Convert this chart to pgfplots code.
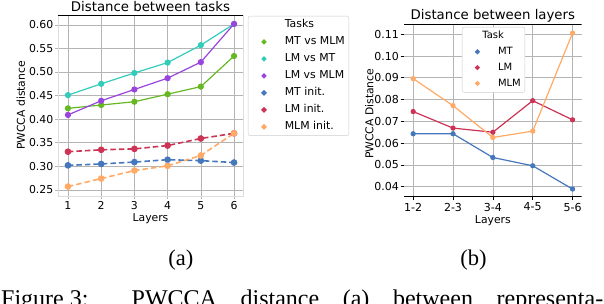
\documentclass[border=0pt]{standalone}
\usepackage{pgfplots}
\pgfplotsset{compat=1.18}
\usepackage{fontspec}
\setmainfont{DejaVu Sans}
\newfontfamily\capfont{Liberation Serif}

\definecolor{cgreen}{HTML}{66B822}
\definecolor{cteal}{HTML}{33CCBB}
\definecolor{cpurple}{HTML}{9944DD}
\definecolor{cblue}{HTML}{4477BB}
\definecolor{cred}{HTML}{CC3355}
\definecolor{corange}{HTML}{FFAA66}
\definecolor{gridc}{HTML}{B4B4B4}
\definecolor{spinec}{HTML}{DDDDDD}
\definecolor{legc}{HTML}{CCCCCC}

\pgfplotsset{
  /pgf/number format/assume math mode=true,
  every axis title shift=0pt,
  solidline/.style={line width=1.2pt, mark=*, mark size=2.5pt, mark options={solid}},
  dashline/.style={line width=1.6pt, dash pattern=on 5.5pt off 3pt, mark=*, mark size=2.5pt, mark options={solid}},
}

\begin{document}
\begin{tikzpicture}[x=1pt,y=1pt]
% ---------------- (a) ----------------
\begin{axis}[
  at={(58pt,-196pt)}, anchor=south west,
  width=185pt, height=181pt, scale only axis,
  xmin=0.7, xmax=6.27, ymin=0.237, ymax=0.621,
  xtick={1,2,3,4,5,6},
  ytick={0.25,0.30,0.35,0.40,0.45,0.50,0.55,0.60},
  yticklabel style={/pgf/number format/fixed, /pgf/number format/fixed zerofill, /pgf/number format/precision=2, inner sep=1.5pt},
  tick label style={font=\fontsize{10.9}{13}\selectfont},
  xticklabel style={inner sep=2pt},
  tick align=outside, major tick length=3pt,
  tick style={gridc, line width=0.6pt},
  xtick pos=bottom, ytick pos=left,
  grid=major, grid style={gridc, line width=0.6pt},
  axis line style={spinec, line width=0.6pt},
  title={Distance between tasks},
  title style={at={(0.5,1)}, anchor=base, yshift=3.5pt, inner sep=0pt, font=\fontsize{13.3}{15}\selectfont},
  xlabel={Layers},
  xlabel style={at={(0.5,0)}, anchor=base, yshift=-25.3pt, inner sep=0pt, font=\fontsize{10.8}{13}\selectfont},
  ylabel={PWCCA distance},
  ylabel style={at={(-0.1784,0.5)}, anchor=base, inner sep=0pt, font=\fontsize{10.8}{13}\selectfont},
  legend cell align=left,
  legend image code/.code={\path (0pt,-3pt) (22pt,3pt); \draw[#1, solid, mark size=1.9pt] plot coordinates {(11pt,0pt)};},
  legend style={at={(1.027,1)}, anchor=north west, yshift=-1pt,
    draw=legc, rounded corners=2pt, fill=white,
    inner xsep=4pt, inner ysep=3.5pt,
    font=\fontsize{10.9}{13}\selectfont,
    nodes={inner sep=0pt, text height=8pt, text depth=2.5pt},
    row sep=6.5pt, column sep=9pt},
]
\addlegendimage{empty legend}
\addlegendentry{Tasks}
\addplot[solidline, color=cgreen] coordinates {(1,0.423) (2,0.430) (3,0.437) (4,0.453) (5,0.469) (6,0.534)};
\addlegendentry{MT vs MLM}
\addplot[solidline, color=cteal] coordinates {(1,0.451) (2,0.475) (3,0.498) (4,0.520) (5,0.557) (6,0.602)};
\addlegendentry{LM vs MT}
\addplot[solidline, color=cpurple] coordinates {(1,0.409) (2,0.439) (3,0.463) (4,0.487) (5,0.521) (6,0.602)};
\addlegendentry{LM vs MLM}
\addplot[dashline, color=cblue] coordinates {(1,0.302) (2,0.305) (3,0.309) (4,0.314) (5,0.312) (6,0.308)};
\addlegendentry{MT init.}
\addplot[dashline, color=cred] coordinates {(1,0.331) (2,0.335) (3,0.337) (4,0.344) (5,0.359) (6,0.370)};
\addlegendentry{LM init.}
\addplot[dashline, color=corange] coordinates {(1,0.257) (2,0.274) (3,0.291) (4,0.301) (5,0.323) (6,0.370)};
\addlegendentry{MLM init.}
\draw[black, line width=0.8pt] (rel axis cs:0,1) -- (rel axis cs:1,1);
\end{axis}

% ---------------- (b) ----------------
\begin{axis}[
  at={(404pt,-196.7pt)}, anchor=south west,
  width=177.7pt, height=172.7pt, scale only axis,
  xmin=-0.23, xmax=4.23, ymin=0.0354, ymax=0.1147,
  xtick={0,1,2,3,4},
  xticklabels={1-2,2-3,3-4,4-5,5-6},
  ytick={0.04,0.05,0.06,0.07,0.08,0.09,0.10,0.11},
  yticklabel style={/pgf/number format/fixed, /pgf/number format/fixed zerofill, /pgf/number format/precision=2, inner sep=1.5pt},
  tick label style={font=\fontsize{11}{13}\selectfont},
  xticklabel style={inner sep=2.5pt},
  tick align=outside, major tick length=3.5pt,
  tick style={black, line width=0.6pt},
  xtick pos=bottom, ytick pos=left,
  grid=major, grid style={gridc, line width=0.6pt},
  axis line style={draw=none},
  title={Distance between layers},
  title style={at={(0.5,1)}, anchor=base, yshift=4.5pt, inner sep=0pt, font=\fontsize{13.3}{15}\selectfont},
  xlabel={Layers},
  xlabel style={at={(0.5,0)}, anchor=base, yshift=-26.3pt, inner sep=0pt, font=\fontsize{10.8}{13}\selectfont},
  ylabel={PWCCA Distance},
  ylabel style={at={(-0.1728,0.48)}, anchor=base, inner sep=0pt, font=\fontsize{10.8}{13}\selectfont},
  legend cell align=left,
  legend image code/.code={\path (0pt,-3pt) (21.4pt,3pt); \draw[#1, solid, mark size=1.8pt] plot coordinates {(10.7pt,0pt)};},
  legend style={at={(0.326,0.983)}, anchor=north west,
    draw=legc, rounded corners=2pt, fill=white,
    inner xsep=4pt, inner ysep=4pt,
    font=\fontsize{10}{12}\selectfont,
    nodes={inner sep=0pt, text height=7.5pt, text depth=2.3pt},
    row sep=6pt, column sep=9.3pt},
]
\addlegendimage{empty legend}
\addlegendentry{\hspace*{-15.7pt}Task}
\addplot[line width=1.2pt, mark=*, mark size=2pt, color=cblue] coordinates {(0,0.0643) (1,0.0643) (2,0.0534) (3,0.0496) (4,0.0389)};
\addlegendentry{MT}
\addplot[line width=1.2pt, mark=*, mark size=2pt, color=cred] coordinates {(0,0.0745) (1,0.0669) (2,0.0650) (3,0.0795) (4,0.0707)};
\addlegendentry{LM}
\addplot[line width=1.2pt, mark=*, mark size=2pt, color=corange] coordinates {(0,0.0896) (1,0.0772) (2,0.0626) (3,0.0655) (4,0.1105)};
\addlegendentry{MLM}
\draw[black, line width=0.8pt] (rel axis cs:0,1) -- (rel axis cs:1,1);
\draw[black, line width=0.8pt] (rel axis cs:0,0) -- (rel axis cs:1,0);
\end{axis}

% captions
\node[font=\capfont\fontsize{22.5}{25}\selectfont, anchor=base, inner sep=0pt] at (180.8pt,-265pt) {(a)};
\node[font=\capfont\fontsize{22.5}{25}\selectfont, anchor=base, inner sep=0pt] at (473.5pt,-265pt) {(b)};
\node[font=\capfont\fontsize{24}{26}\selectfont, anchor=base west, inner sep=0pt] at (1pt,-306.5pt) {\makebox[602pt][s]{Figure\kern6pt3: PWCCA distance (a) between representa-}};

\pgfresetboundingbox
\useasboundingbox (0pt,0pt) rectangle (604pt,-304pt);
\end{tikzpicture}
\end{document}
